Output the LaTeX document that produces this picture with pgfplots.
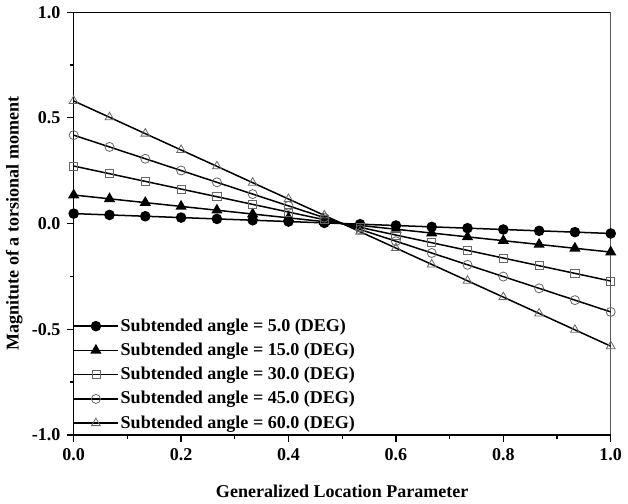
\documentclass[border=0pt]{standalone}
\usepackage{pgfplots}
\pgfplotsset{compat=1.18}
\usepackage{fontspec}
\setmainfont{Liberation Serif}
\begin{document}
\fontsize{18}{21}\selectfont\bfseries
\begin{tikzpicture}
\begin{axis}[
  scale only axis,
  width=536pt, height=422pt,
  xmin=0, xmax=1, ymin=-1, ymax=1,
  xtick={0,0.2,0.4,0.6,0.8,1.0},
  ytick={-1,-0.5,0,0.5,1},
  minor xtick={0.1,0.3,0.5,0.7,0.9},
  minor ytick={-0.75,-0.25,0.25,0.75},
  xticklabel style={/pgf/number format/.cd,fixed,fixed zerofill,precision=1},
  yticklabel style={/pgf/number format/.cd,fixed,fixed zerofill,precision=1},
  /pgf/number format/assume math mode=true,
  tick label style={font=\fontsize{18}{21}\selectfont\bfseries},
  label style={font=\fontsize{18}{21}\selectfont\bfseries},
  axis x line*=bottom, axis y line*=left,
  tick align=outside,
  major tick length=7pt, minor tick length=4pt,
  tick style={black, line width=1.2pt},
  axis line style={line width=1.5pt},
  every outer x axis line/.append style={-},
  every outer y axis line/.append style={-},
  xlabel={Generalized Location Parameter},
  ylabel={Magnitute of a torsional moment},
  xlabel style={yshift=-12pt},
  ylabel style={yshift=-3pt},
  legend style={draw=none, fill=none, at={(-0.007,0.0)}, anchor=south west,
    font=\fontsize{18}{21}\selectfont\bfseries, row sep=5pt,
    legend cell align=left},
  legend image code/.code={\draw[mark repeat=2,mark phase=2,#1] plot coordinates {(0pt,0pt)(22pt,0pt)(44pt,0pt)};},
]
\addplot[black, line width=1.5pt, mark=*, mark size=4.5pt, mark options={fill=black, solid}] coordinates {
(0,0.047)(0.0667,0.0407)(0.1333,0.0345)(0.2,0.0282)(0.2667,0.0219)(0.3333,0.0157)(0.4,0.0094)(0.4667,0.0031)(0.5333,-0.0031)(0.6,-0.0094)(0.6667,-0.0157)(0.7333,-0.0219)(0.8,-0.0282)(0.8667,-0.0345)(0.9333,-0.0407)(1,-0.047)};
\addlegendentry{Subtended angle = 5.0 (DEG)}
\addplot[black, line width=1.5pt, mark=triangle*, mark size=5pt, mark options={fill=black, solid}] coordinates {
(0,0.135)(0.0667,0.117)(0.1333,0.099)(0.2,0.081)(0.2667,0.063)(0.3333,0.045)(0.4,0.027)(0.4667,0.009)(0.5333,-0.009)(0.6,-0.027)(0.6667,-0.045)(0.7333,-0.063)(0.8,-0.081)(0.8667,-0.099)(0.9333,-0.117)(1,-0.135)};
\addlegendentry{Subtended angle = 15.0 (DEG)}
\addplot[black, line width=1.5pt, mark=square, mark size=4pt, mark options={draw=black!60, line width=0.8pt, fill=white, solid}] coordinates {
(0,0.272)(0.0667,0.2357)(0.1333,0.1995)(0.2,0.1632)(0.2667,0.1269)(0.3333,0.0907)(0.4,0.0544)(0.4667,0.0181)(0.5333,-0.0181)(0.6,-0.0544)(0.6667,-0.0907)(0.7333,-0.1269)(0.8,-0.1632)(0.8667,-0.1995)(0.9333,-0.2357)(1,-0.272)};
\addlegendentry{Subtended angle = 30.0 (DEG)}
\addplot[black, line width=1.5pt, mark=o, mark size=4.5pt, mark options={draw=black!60, line width=0.8pt, fill=white, solid}] coordinates {
(0,0.418)(0.0667,0.3623)(0.1333,0.3065)(0.2,0.2508)(0.2667,0.1951)(0.3333,0.1393)(0.4,0.0836)(0.4667,0.0279)(0.5333,-0.0279)(0.6,-0.0836)(0.6667,-0.1393)(0.7333,-0.1951)(0.8,-0.2508)(0.8667,-0.3065)(0.9333,-0.3623)(1,-0.418)};
\addlegendentry{Subtended angle = 45.0 (DEG)}
\addplot[black, line width=1.5pt, mark=triangle, mark size=5pt, mark options={draw=black!60, line width=0.8pt, fill=white, solid}] coordinates {
(0,0.58)(0.0667,0.5027)(0.1333,0.4253)(0.2,0.348)(0.2667,0.2707)(0.3333,0.1933)(0.4,0.116)(0.4667,0.0387)(0.5333,-0.0387)(0.6,-0.116)(0.6667,-0.1933)(0.7333,-0.2707)(0.8,-0.348)(0.8667,-0.4253)(0.9333,-0.5027)(1,-0.58)};
\addlegendentry{Subtended angle = 60.0 (DEG)}
\draw[line width=1.5pt] (rel axis cs:0,1) -- (rel axis cs:1,1) -- (rel axis cs:1,0);
\end{axis}
\end{tikzpicture}
\end{document}
